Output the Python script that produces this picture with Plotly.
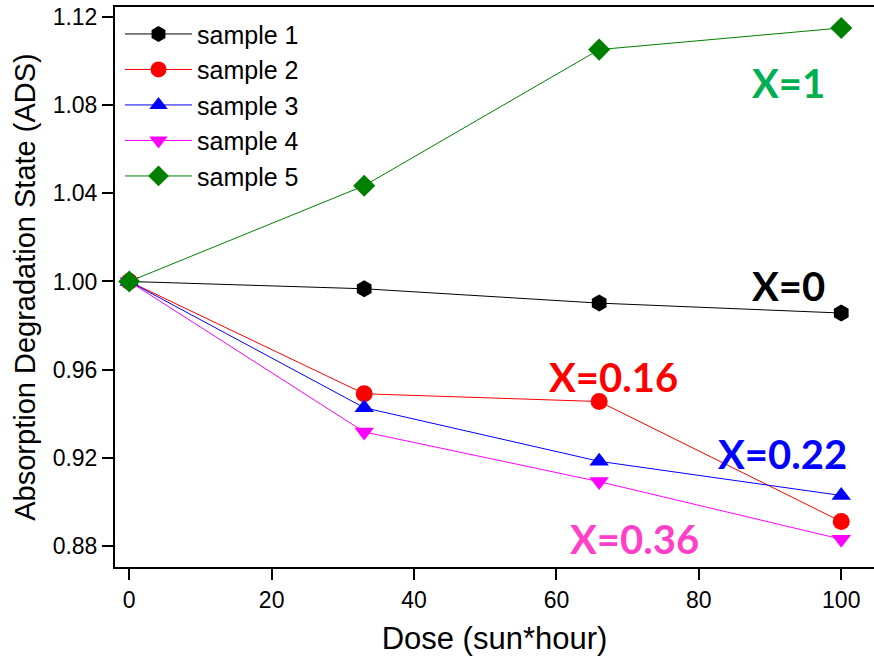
import plotly.graph_objects as go

dose = [0, 33, 66, 100]
sample1 = [1.000, 0.9967, 0.9902, 0.9857]
sample2 = [1.000, 0.9491, 0.9456, 0.8912]
sample3 = [1.000, 0.9428, 0.9185, 0.9030]
sample4 = [1.000, 0.9318, 0.9093, 0.8832]
sample5 = [1.000, 1.0434, 1.1051, 1.1149]

names = ["sample 1", "sample 2", "sample 3", "sample 4", "sample 5"]
series = [sample1, sample2, sample3, sample4, sample5]
colors = ["#000000", "#ff0000", "#0000ff", "#ff00ff", "#008000"]
symbols = ["hexagon", "circle", "triangle-up", "triangle-down", "diamond"]
sizes = [17, 17, 17, 17, 17]

labels = ["X=1", "X=0", "X=0.16", "X=0.22", "X=0.36"]
label_x = [92.6, 92.6, 68.0, 91.7, 71.0]
label_y = [1.0901, 0.998, 0.9568, 0.9219, 0.8833]
label_colors = ["#00b050", "#000000", "#ff0000", "#0000ff", "#ff40c8"]

fig = go.Figure()
for n, s, c, sym, sz in zip(names, series, colors, symbols, sizes):
    fig.add_trace(go.Scatter(
        x=dose, y=s, name=n, mode="lines+markers",
        line=dict(color=c, width=1),
        marker=dict(color=c, symbol=sym, size=sz, line=dict(width=0)),
    ))

for t, x, y, c in zip(labels, label_x, label_y, label_colors):
    fig.add_annotation(x=x, y=y, text="<b>%s</b>" % t, showarrow=False,
                       xanchor="center", yanchor="middle",
                       font=dict(family="Lato", size=40, color=c))

axis_font = dict(family="Liberation Sans", size=23, color="#000000")
fig.update_layout(
    width=874, height=657,
    margin=dict(l=115, r=0, t=7, b=90),
    paper_bgcolor="white", plot_bgcolor="white",
    showlegend=True,
    legend=dict(x=0.0066, y=0.9925, xanchor="left", yanchor="top",
                itemwidth=67,
                bgcolor="rgba(0,0,0,0)", borderwidth=0,
                font=dict(family="Liberation Sans", size=25, color="#000000")),
    xaxis=dict(range=[-2.0, 104.6], tickvals=[0, 20, 40, 60, 80, 100],
               ticks="outside", ticklen=11, tickwidth=2, tickcolor="#000000",
               showline=True, linewidth=2, linecolor="#000000", mirror=True,
               showgrid=False, zeroline=False, tickfont=axis_font,
               title=dict(text="Dose (sun*hour)", standoff=16,
                          font=dict(family="Liberation Sans", size=31, color="#000000"))),
    yaxis=dict(range=[0.8706, 1.1244], tickvals=[0.88, 0.92, 0.96, 1.00, 1.04, 1.08, 1.12],
               tickformat=".2f",
               ticks="outside", ticklen=11, tickwidth=2, tickcolor="#000000",
               showline=True, linewidth=2, linecolor="#000000",
               showgrid=False, zeroline=False, tickfont=axis_font,
               title=dict(text="Absorption Degradation State (ADS)", standoff=8,
                          font=dict(family="Liberation Sans", size=29, color="#000000"))),
)

fig.write_html("out.html")
